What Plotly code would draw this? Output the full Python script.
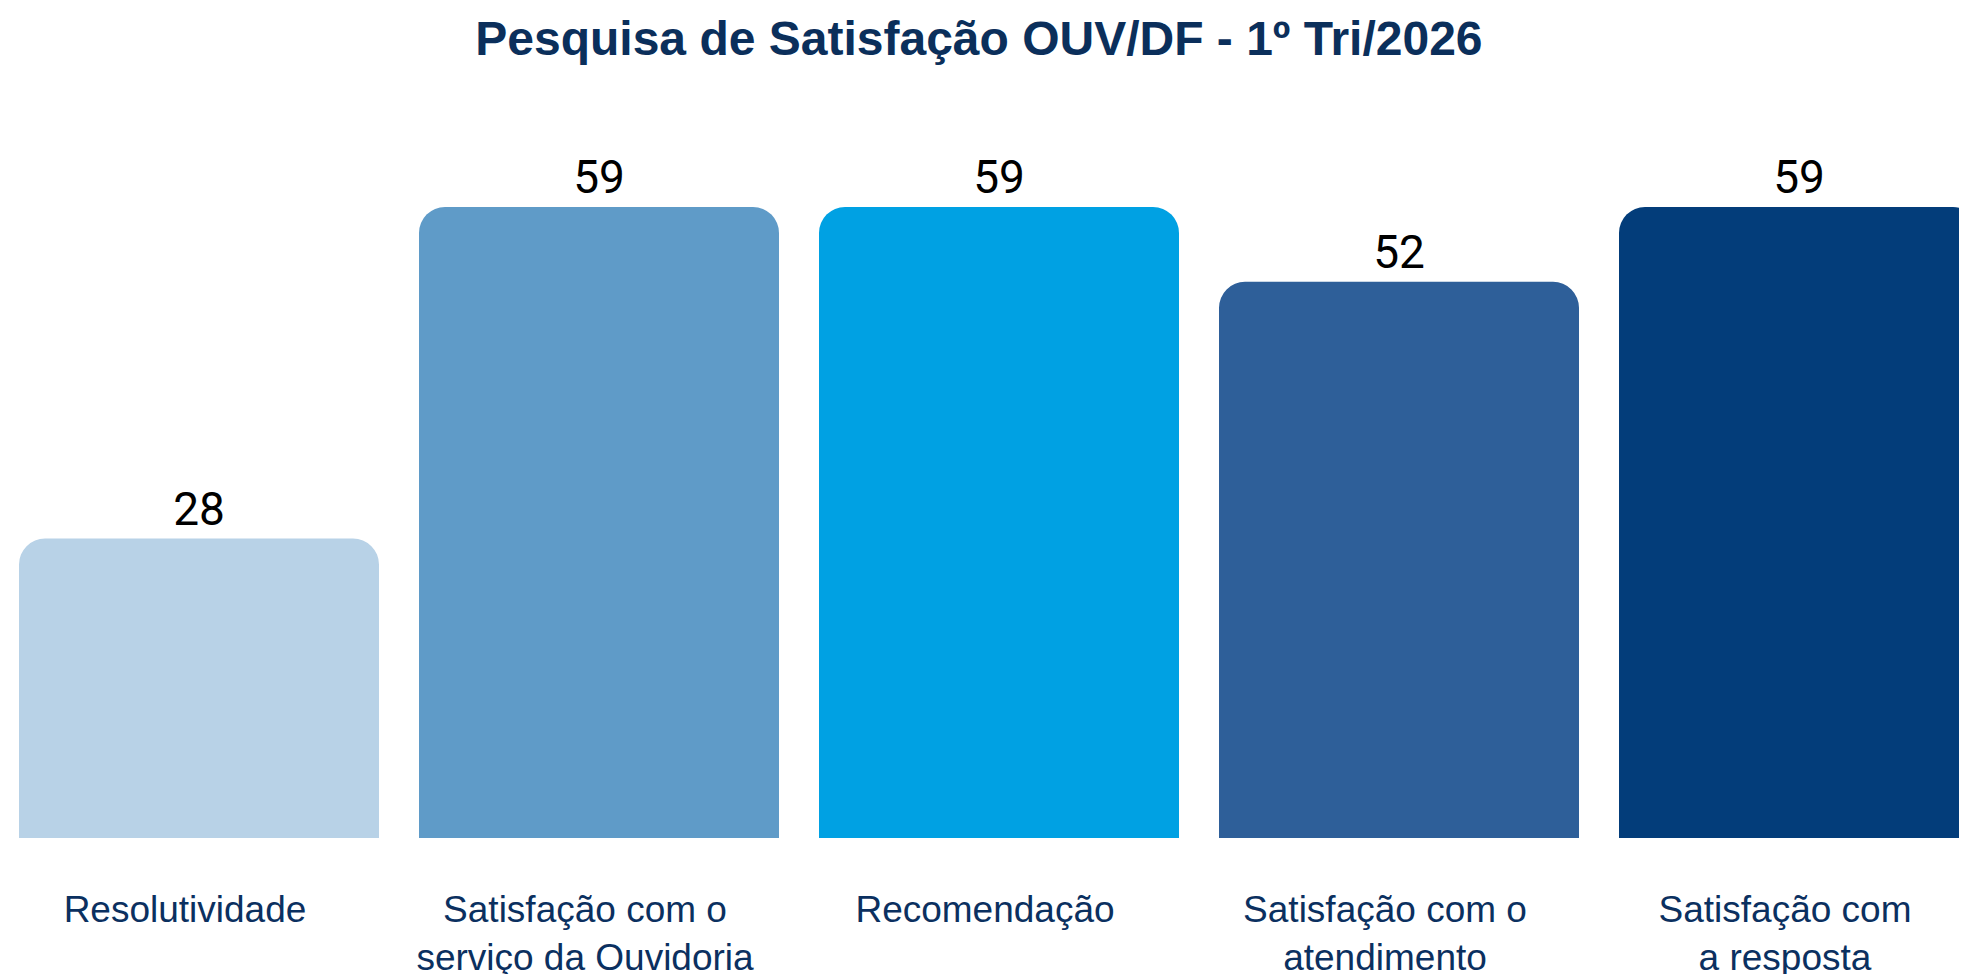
import plotly.graph_objects as go

# dados da pesquisa (1º trimestre)
categorias = [
    "Resolutividade",
    "Satisfação com o<br>serviço da Ouvidoria",
    "Recomendação",
    "Satisfação com o<br>atendimento",
    "Satisfação com<br>a resposta",
]
valores = [28, 59, 59, 52, 59]
cores = ["#B8D2E7", "#5F9BC8", "#00A1E3", "#2E5F99", "#033D7A"]

titulo = "Pesquisa de Satisfação OUV/DF - 1º Tri/2026"

fig = go.Figure()
fig.add_trace(go.Bar(
    x=categorias,
    y=valores,
    marker=dict(color=cores, line=dict(width=0)),
    text=valores,
    textposition="outside",
    textfont=dict(family="Roboto", size=46, color="#000000"),
    cliponaxis=False,
    hoverinfo="skip",
))

fig.update_layout(
    width=1967,
    height=974,
    paper_bgcolor="white",
    plot_bgcolor="white",
    showlegend=False,
    bargap=0.1,
    barcornerradius=26,
    margin=dict(l=0, r=0, t=72, b=144),
    title=dict(
        text="<b>" + titulo + "</b>",
        x=0.4936,
        xanchor="center",
        y=0.9692,
        yanchor="middle",
        font=dict(family="Liberation Sans, Arial", size=48, color="#0B2F5B"),
    ),
)

# rótulos das categorias um pouco deslocados para a esquerda, como no original
fig.update_xaxes(
    range=[-0.4775, 4.44],
    showgrid=False,
    showline=False,
    zeroline=False,
    ticks="",
    ticklabelshift=-14,
    ticklabelstandoff=46,
    tickfont=dict(family="Liberation Sans, Arial", size=37, color="#0B3060"),
)
fig.update_yaxes(
    range=[0, 70.87],
    visible=False,
)

fig.write_html("out.html")
